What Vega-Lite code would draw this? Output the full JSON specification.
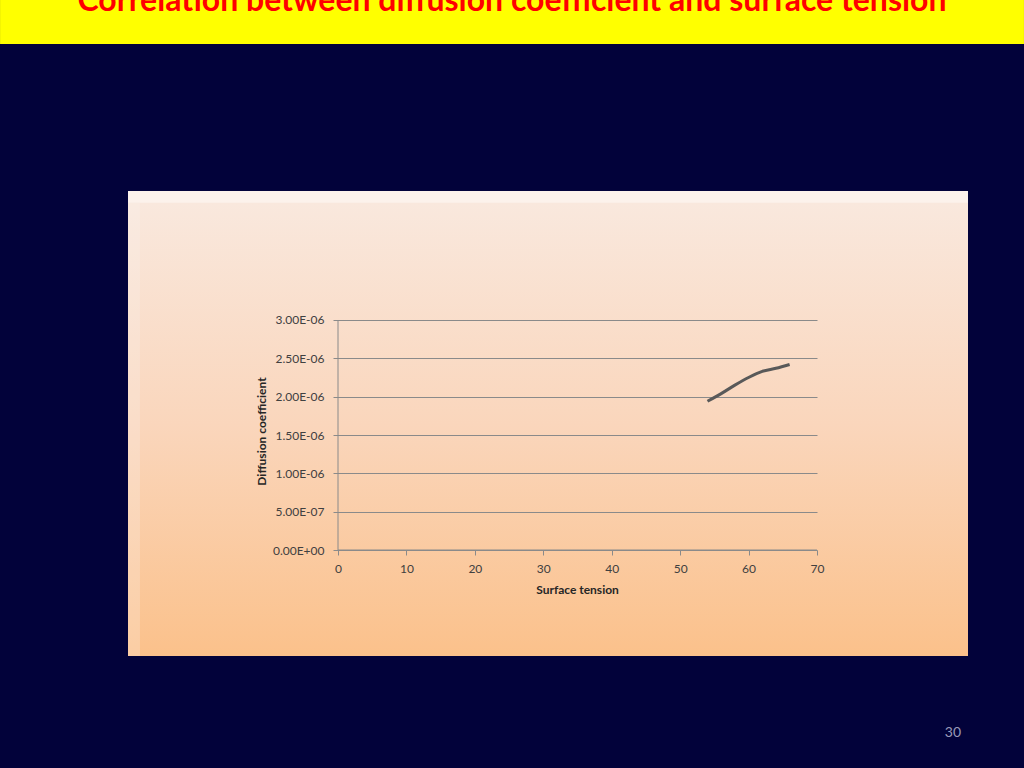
{
  "$schema": "https://vega.github.io/schema/vega-lite/v6.json",
  "width": 840,
  "height": 465,
  "autosize": "none",
  "padding": {"left": 128, "top": 191, "right": 56, "bottom": 112},
  "background": "#02023a",
  "config": {
    "view": {
      "stroke": null,
      "fill": {
        "gradient": "linear",
        "x1": 0, "y1": 0, "x2": 0, "y2": 1,
        "stops": [
          {"offset": 0, "color": "#f9e9df"},
          {"offset": 0.5, "color": "#fad6bc"},
          {"offset": 1, "color": "#fbc18b"}
        ]
      }
    },
    "font": "Lato",
    "axis": {
      "domain": false,
      "tickColor": "#8a8a8a",
      "labelFont": "Lato",
      "labelFontSize": 12,
      "labelColor": "#404040",
      "titleFont": "Lato",
      "titleFontSize": 12,
      "titleFontWeight": "bold",
      "titleColor": "#262626",
      "grid": false
    }
  },
  "layer": [
    {
      "data": {"values": [{}]},
      "mark": {"type": "rect", "fill": "#fdf4ef", "opacity": 0.8},
      "encoding": {
        "x": {"datum": -30.69, "type": "quantitative", "scale": {"domain": [-30.69, 92.07], "nice": false, "zero": false}},
        "x2": {"datum": 92.07},
        "y": {"datum": 4.6826e-6, "type": "quantitative", "scale": {"domain": [-1.3826e-6, 4.6826e-6], "nice": false, "zero": false}},
        "y2": {"datum": 4.53e-6}
      }
    },
    {
      "data": {"values": [{}]},
      "mark": {"type": "rect", "fill": "#fdf4ef", "opacity": 0.25},
      "encoding": {
        "x": {"datum": -30.69, "type": "quantitative"},
        "x2": {"datum": -28.94},
        "y": {"datum": 4.53e-6, "type": "quantitative"},
        "y2": {"datum": -1.3826e-6}
      }
    },
    {
      "data": {"values": [{}]},
      "mark": {"type": "rect", "fill": "#ffff00"},
      "encoding": {
        "x": {"datum": -49.39, "type": "quantitative"},
        "x2": {"datum": 100.25},
        "y": {"datum": 7.174e-6, "type": "quantitative"},
        "y2": {"datum": 6.6e-6}
      }
    },
    {
      "data": {"values": [{}]},
      "mark": {
        "type": "text",
        "text": "Correlation between diffusion coefficient and surface tension",
        "font": "Lato",
        "fontSize": 32,
        "fontWeight": "bold",
        "color": "#ff0000",
        "align": "center",
        "baseline": "alphabetic"
      },
      "encoding": {
        "x": {"datum": 25.43, "type": "quantitative"},
        "y": {"datum": 7.03e-6, "type": "quantitative"}
      }
    },
    {
      "data": {"values": [{}]},
      "mark": {
        "type": "text",
        "text": "30",
        "font": "Lato",
        "fontSize": 14,
        "color": "#9a9ab8",
        "align": "center",
        "baseline": "middle"
      },
      "encoding": {
        "x": {"datum": 89.87, "type": "quantitative"},
        "y": {"datum": -2.387e-6, "type": "quantitative"}
      }
    },
    {
      "data": {"values": [{}]},
      "mark": {"type": "rule", "color": "#8a8a8a", "strokeWidth": 1},
      "encoding": {
        "x": {"datum": 0, "type": "quantitative"},
        "y": {"datum": 0, "type": "quantitative"},
        "y2": {"datum": 3e-6}
      }
    },
    {
      "data": {"values": [{}]},
      "mark": {"type": "rule", "color": "#8a8a8a", "strokeWidth": 1},
      "encoding": {
        "x": {"datum": 0, "type": "quantitative"},
        "x2": {"datum": 70},
        "y": {"datum": 0, "type": "quantitative"}
      }
    },
    {
      "data": {
        "values": [
          {"tension": 54, "diffusion": 1.94e-6},
          {"tension": 56, "diffusion": 2.04e-6},
          {"tension": 58, "diffusion": 2.15e-6},
          {"tension": 60, "diffusion": 2.25e-6},
          {"tension": 62, "diffusion": 2.33e-6},
          {"tension": 64, "diffusion": 2.37e-6},
          {"tension": 66, "diffusion": 2.42e-6}
        ]
      },
      "mark": {"type": "line", "color": "#595959", "strokeWidth": 3, "interpolate": "monotone"},
      "encoding": {
        "x": {
          "field": "tension",
          "type": "quantitative",
          "title": "Surface tension",
          "axis": {
            "values": [0, 10, 20, 30, 40, 50, 60, 70],
            "offset": -106,
            "tickSize": 5,
            "tickColor": "#8a8a8a",
            "labelPadding": 8,
            "titlePadding": 10,
            "titleX": 449
          }
        },
        "y": {
          "field": "diffusion",
          "type": "quantitative",
          "title": "Diffusion coefficient",
          "axis": {
            "values": [0, 5e-7, 1e-6, 1.5e-6, 2e-6, 2.5e-6, 3e-6],
            "labelExpr": "datum.value == 0 ? '0.00E+00' : (datum.value < 1e-6 ? format(datum.value / 1e-7, '.2f') + 'E-07' : format(datum.value / 1e-6, '.2f') + 'E-06')",
            "offset": -205,
            "tickSize": -484,
            "tickColor": "#8a8a8a",
            "labelPadding": 493,
            "titlePadding": 4,
            "titleY": 240
          }
        }
      }
    }
  ]
}
